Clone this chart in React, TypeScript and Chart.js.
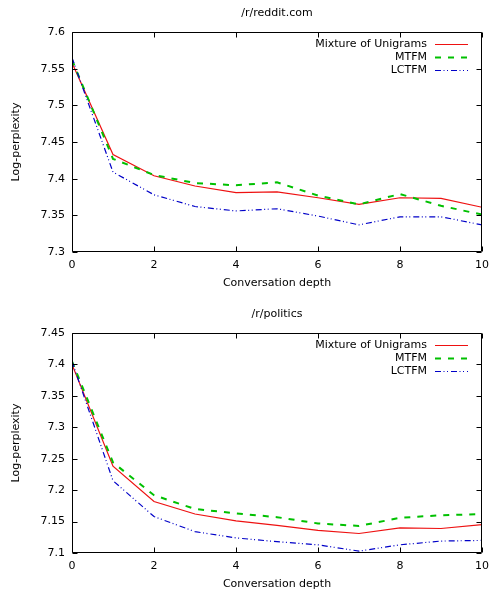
import React, { useEffect, useRef } from "react";
import { Chart, registerables } from "chart.js";

Chart.register(...registerables);

const depth = [0, 1, 2, 3, 4, 5, 6, 7, 8, 9, 10];
const seriesNames = ["Mixture of Unigrams", "MTFM", "LCTFM"];
const xTicks = [0, 2, 4, 6, 8, 10];

const redditMixture = [7.558, 7.433, 7.404, 7.39, 7.381, 7.382, 7.374, 7.365, 7.374, 7.373, 7.361];
const redditMTFM = [7.562, 7.427, 7.405, 7.394, 7.391, 7.395, 7.377, 7.365, 7.379, 7.363, 7.351];
const redditLCTFM = [7.565, 7.409, 7.378, 7.362, 7.356, 7.359, 7.349, 7.337, 7.348, 7.348, 7.337];
const redditYTicks = [7.3, 7.35, 7.4, 7.45, 7.5, 7.55, 7.6];

const politicsMixture = [7.4, 7.238, 7.182, 7.162, 7.151, 7.144, 7.136, 7.131, 7.14, 7.139, 7.145];
const politicsMTFM = [7.405, 7.244, 7.192, 7.17, 7.163, 7.157, 7.147, 7.143, 7.156, 7.16, 7.162];
const politicsLCTFM = [7.405, 7.215, 7.158, 7.134, 7.124, 7.118, 7.113, 7.103, 7.113, 7.119, 7.12];
const politicsYTicks = [7.1, 7.15, 7.2, 7.25, 7.3, 7.35, 7.4, 7.45];

const colors = ["#ee1111", "#00c000", "#0000c8"];
const widths = [1.2, 2, 1.2];
const dashes: number[][] = [[], [6, 7], [6, 2.5, 1, 2.5, 1, 3]];
const FONT = "DejaVu Sans";
const FS = 11;

function PlotChart(props: { title: string; series: number[][]; yTicks: number[] }) {
  const ref = useRef<HTMLCanvasElement | null>(null);
  useEffect(() => {
    const { title, series, yTicks } = props;
    const framePlugin = {
      id: "frame",
      afterDraw(chart: any) {
        const ctx = chart.ctx;
        const a = chart.chartArea;
        const xs = chart.scales.x;
        const ys = chart.scales.y;
        ctx.save();
        ctx.strokeStyle = "#000";
        ctx.lineWidth = 1;
        ctx.setLineDash([]);
        ctx.beginPath();
        const L = Math.round(a.left) + 0.5;
        const R = Math.round(a.right) - 0.5;
        const T = Math.round(a.top) + 0.5;
        const B = Math.round(a.bottom) - 0.5;
        ctx.rect(L, T, R - L, B - T);
        const tl = 5;
        xTicks.forEach((v) => {
          const px = Math.round(xs.getPixelForValue(v)) + 0.5;
          ctx.moveTo(px, B);
          ctx.lineTo(px, B - tl);
          ctx.moveTo(px, T);
          ctx.lineTo(px, T + tl);
        });
        yTicks.forEach((v) => {
          const py = Math.round(ys.getPixelForValue(v)) + 0.5;
          ctx.moveTo(L, py);
          ctx.lineTo(L + tl, py);
          ctx.moveTo(R, py);
          ctx.lineTo(R - tl, py);
        });
        ctx.stroke();

        // title
        ctx.fillStyle = "#000";
        ctx.font = `${FS}px "${FONT}"`;
        ctx.textAlign = "center";
        ctx.textBaseline = "middle";
        ctx.fillText(title, (a.left + a.right) / 2, 13);

        // legend
        const rows = [44, 57, 70];
        seriesNames.forEach((name, i) => {
          ctx.textAlign = "right";
          ctx.fillStyle = "#000";
          ctx.fillText(name, 427, rows[i]);
          ctx.beginPath();
          ctx.strokeStyle = colors[i];
          ctx.lineWidth = widths[i];
          ctx.setLineDash(dashes[i]);
          ctx.moveTo(435, rows[i] + 0.5);
          ctx.lineTo(468, rows[i] + 0.5);
          ctx.stroke();
        });
        ctx.restore();
      },
    };

    const chart = new Chart(ref.current as HTMLCanvasElement, {
      type: "line",
      data: {
        datasets: series.map((vals, i) => ({
          label: seriesNames[i],
          data: vals.map((y, j) => ({ x: depth[j], y })),
          borderColor: colors[i],
          borderWidth: widths[i],
          borderDash: dashes[i],
          pointRadius: 0,
          tension: 0,
          fill: false,
          order: 3 - i,
        })),
      },
      options: {
        animation: false,
        responsive: false,
        devicePixelRatio: 1,
        layout: { padding: { top: 32, right: 8, left: 0, bottom: 0 } },
        plugins: {
          legend: { display: false },
          title: { display: false },
          tooltip: { enabled: false },
        },
        scales: {
          x: {
            type: "linear",
            min: 0,
            max: 10,
            afterFit: (s: any) => {
              s.height = 48;
              s.paddingLeft = 0;
              s.paddingRight = 0;
            },
            afterBuildTicks: (s: any) => {
              s.ticks = xTicks.map((v) => ({ value: v }));
            },
            grid: { display: false, drawTicks: false },
            border: { display: false },
            ticks: {
              padding: 7,
              color: "#000",
              font: { family: FONT, size: FS },
              callback: (v: any) => String(v),
            },
            title: {
              display: true,
              text: "Conversation depth",
              color: "#000",
              font: { family: FONT, size: FS },
              padding: { top: 0, bottom: 10 },
            },
          },
          y: {
            type: "linear",
            min: yTicks[0],
            max: yTicks[yTicks.length - 1],
            afterFit: (s: any) => {
              s.width = 72;
              s.paddingTop = 0;
              s.paddingBottom = 0;
            },
            afterBuildTicks: (s: any) => {
              s.ticks = yTicks.map((v) => ({ value: v }));
            },
            grid: { display: false, drawTicks: false },
            border: { display: false },
            ticks: {
              padding: 7,
              color: "#000",
              font: { family: FONT, size: FS },
              callback: (v: any) => String(parseFloat(Number(v).toFixed(2))),
            },
            title: {
              display: true,
              text: "Log-perplexity",
              color: "#000",
              font: { family: FONT, size: FS },
              padding: { top: 10, bottom: 0 },
            },
          },
        },
      },
      plugins: [framePlugin],
    } as any);
    return () => chart.destroy();
  }, []);
  return <canvas ref={ref} width={490} height={300} style={{ display: "block", width: 490, height: 300 }} />;
}

export default function App() {
  return (
    <div
      style={{
        position: "absolute",
        left: 0,
        top: 0,
        width: 490,
        height: 589,
        overflow: "hidden",
        background: "#fff",
      }}
    >
      <div style={{ position: "absolute", left: 0, top: 0, width: 490, height: 300 }}>
        <PlotChart title="/r/reddit.com" series={[redditMixture, redditMTFM, redditLCTFM]} yTicks={redditYTicks} />
      </div>
      <div style={{ position: "absolute", left: 0, top: 301, width: 490, height: 300 }}>
        <PlotChart title="/r/politics" series={[politicsMixture, politicsMTFM, politicsLCTFM]} yTicks={politicsYTicks} />
      </div>
    </div>
  );
}
